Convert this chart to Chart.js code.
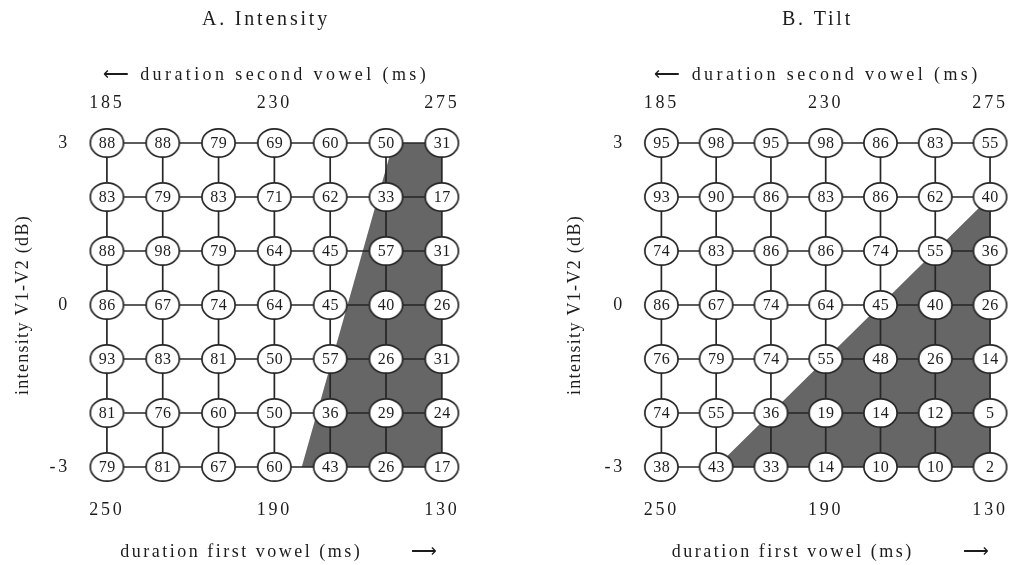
<!DOCTYPE html>
<html>
<head>
<meta charset="utf-8">
<script src="https://cdn.jsdelivr.net/npm/chart.js@4.4.1/dist/chart.umd.min.js"></script>
<style>
  html, body { margin: 0; padding: 0; background: #fff; }
  #wrap { position: relative; width: 1017px; height: 565px; overflow: hidden; }
  canvas { position: absolute; top: 0; }
  #intensity { left: 0; }
  #tilt { left: 510px; }
</style>
</head>
<body>
<div id="wrap">
  <canvas id="intensity" width="510" height="565"></canvas>
  <canvas id="tilt" width="507" height="565"></canvas>
</div>
<script>
// grid steps: columns left->right, levels top->bottom (dB)
const cols = [0, 1, 2, 3, 4, 5, 6];
const levels = [3, 2, 1, 0, -1, -2, -3];

// tick labels and where they sit on the grid
const tickCols = [0, 3, 6];
const firstVowelTicks = ['250', '190', '130'];
const secondVowelTicks = ['185', '230', '275'];
const tickLevels = [3, 0, -3];
const levelTicks = ['3', '0', '-3'];

// percentage per cell, one row per level (3 dB at the top)
const intensityScores = [
  [88, 88, 79, 69, 60, 50, 31],
  [83, 79, 83, 71, 62, 33, 17],
  [88, 98, 79, 64, 45, 57, 31],
  [86, 67, 74, 64, 45, 40, 26],
  [93, 83, 81, 50, 57, 26, 31],
  [81, 76, 60, 50, 36, 29, 24],
  [79, 81, 67, 60, 43, 26, 17]
];
const tiltScores = [
  [95, 98, 95, 98, 86, 83, 55],
  [93, 90, 86, 83, 86, 62, 40],
  [74, 83, 86, 86, 74, 55, 36],
  [86, 67, 74, 64, 45, 40, 26],
  [76, 79, 74, 55, 48, 26, 14],
  [74, 55, 36, 19, 14, 12, 5],
  [38, 43, 33, 14, 10, 10, 2]
];

// shaded regions (grid units)
const intensityRegion = [
  {x: 5.13, y: 3}, {x: 6, y: 3}, {x: 6, y: -3}, {x: 3.49, y: -3}, {x: 5.13, y: 3}
];
const tiltRegion = [
  {x: 1, y: -3}, {x: 6, y: 2}, {x: 6, y: -3}, {x: 1, y: -3}
];

const SERIF = '"Liberation Serif", "Times New Roman", serif';
const INK = '#1c1c1c';

function ringImage() {
  const c = document.createElement('canvas');
  c.width = 37;
  c.height = 32;
  const g = c.getContext('2d');
  g.beginPath();
  g.ellipse(18.5, 16, 16.6, 14.2, 0, 0, Math.PI * 2);
  g.fillStyle = '#fff';
  g.fill();
  g.lineWidth = 1.7;
  g.strokeStyle = '#262626';
  g.stroke();
  return c;
}
const ring = ringImage();

// the scanned figure has widely spaced lettering; titles differ a bit per axis
const titleSpacing = {x: '2.5px', x2: '3.4px', y: '1.3px'};
const spacing = {
  id: 'spacing',
  beforeDraw(chart) {
    chart.ctx.letterSpacing = '2.8px';
    Object.values(chart.scales).forEach(s => {
      if (s._spaced) return;
      const drawTitle = s.drawTitle;
      s.drawTitle = function () {
        const prev = this.ctx.letterSpacing;
        this.ctx.letterSpacing = titleSpacing[this.id] || prev;
        drawTitle.call(this);
        this.ctx.letterSpacing = prev;
      };
      s._spaced = true;
    });
  }
};

// write each score inside its ring
const cellLabels = {
  id: 'cellLabels',
  afterDatasetsDraw(chart) {
    const idx = chart.data.datasets.findIndex(d => d.cells);
    if (idx < 0) return;
    const ds = chart.data.datasets[idx];
    const ctx = chart.ctx;
    ctx.save();
    ctx.letterSpacing = '0.5px';
    ctx.font = '16px ' + SERIF;
    ctx.fillStyle = INK;
    ctx.textAlign = 'center';
    ctx.textBaseline = 'middle';
    chart.getDatasetMeta(idx).data.forEach((pt, i) => {
      ctx.fillText(String(ds.data[i].v), pt.x + 0.3, pt.y + 1);
    });
    ctx.restore();
  }
};

function tickAxis(position, slots, labels, pad, extra) {
  return Object.assign({
    type: 'linear',
    position: position,
    grid: {display: false, drawTicks: false},
    border: {display: false},
    afterBuildTicks: s => { s.ticks = slots.map(v => ({value: v})); },
    ticks: {
      color: INK,
      padding: pad,
      font: {family: SERIF, size: 18},
      autoSkip: false,
      maxRotation: 0,
      callback: v => labels[slots.indexOf(v)]
    }
  }, extra);
}

function makePanel(id, title, scores, region, leftW, padR, yTitlePad) {
  const lineSets = [];
  levels.forEach(lv => {
    lineSets.push({data: cols.map(c => ({x: c, y: lv}))});
  });
  cols.forEach(c => {
    lineSets.push({data: levels.map(lv => ({x: c, y: lv}))});
  });
  lineSets.forEach(d => Object.assign(d, {
    showLine: true, pointRadius: 0, borderColor: '#262626', borderWidth: 1.7,
    fill: false, clip: false, order: 2
  }));

  const cells = [];
  levels.forEach((lv, r) => cols.forEach((c, k) => cells.push({x: c, y: lv, v: scores[r][k]})));

  new Chart(document.getElementById(id), {
    type: 'scatter',
    data: {
      datasets: [
        {
          cells: true, data: cells, pointStyle: ring, pointRadius: 15,
          pointHoverRadius: 15, clip: false, order: 1
        },
        ...lineSets,
        {
          data: region, showLine: true, pointRadius: 0, borderWidth: 0,
          borderColor: '#666', backgroundColor: '#666666', fill: 'shape',
          clip: false, order: 3
        }
      ]
    },
    options: {
      responsive: false,
      animation: false,
      events: [],
      layout: {padding: {left: 0, right: padR, top: 0, bottom: 0}},
      plugins: {
        legend: {display: false},
        tooltip: {enabled: false},
        title: {
          display: true, fullSize: false, text: title, color: INK,
          font: {family: SERIF, size: 20, weight: 'normal'},
          padding: {top: 8, bottom: 0}
        }
      },
      scales: {
        x: tickAxis('bottom', tickCols, firstVowelTicks, 5.2, {
          min: -0.5, max: 6.2,
          afterFit: s => { s.height = 71; },
          title: {
            display: true, color: INK, font: {family: SERIF, size: 18},
            text: '    duration first vowel (ms)       \u27F6',
            padding: {top: 0, bottom: 2.2}
          }
        }),
        x2: tickAxis('top', tickCols, secondVowelTicks, 2.2, {
          min: -0.5, max: 6.2,
          afterFit: s => { s.height = 84; },
          title: {
            display: true, color: INK, font: {family: SERIF, size: 18},
            text: '\u27F5 duration second vowel (ms)',
            padding: {top: 32.2, bottom: 0}
          }
        }),
        y: tickAxis('left', tickLevels, levelTicks, 9, {
          min: -3.5, max: 3.5,
          afterFit: s => { s.width = leftW; },
          title: {
            display: true, color: INK, font: {family: SERIF, size: 18},
            text: 'intensity V1-V2 (dB)',
            padding: {top: yTitlePad, bottom: 0}
          }
        })
      }
    },
    plugins: [spacing, cellLabels]
  });
}

// left axis width / right padding chosen so both panels share the same grid pitch
makePanel('intensity', 'A. Intensity', intensityScores, intensityRegion, 79, 57, 12.7);
makePanel('tilt', 'B. Tilt', tiltScores, tiltRegion, 124, 9, 54);
</script>
</body>
</html>
